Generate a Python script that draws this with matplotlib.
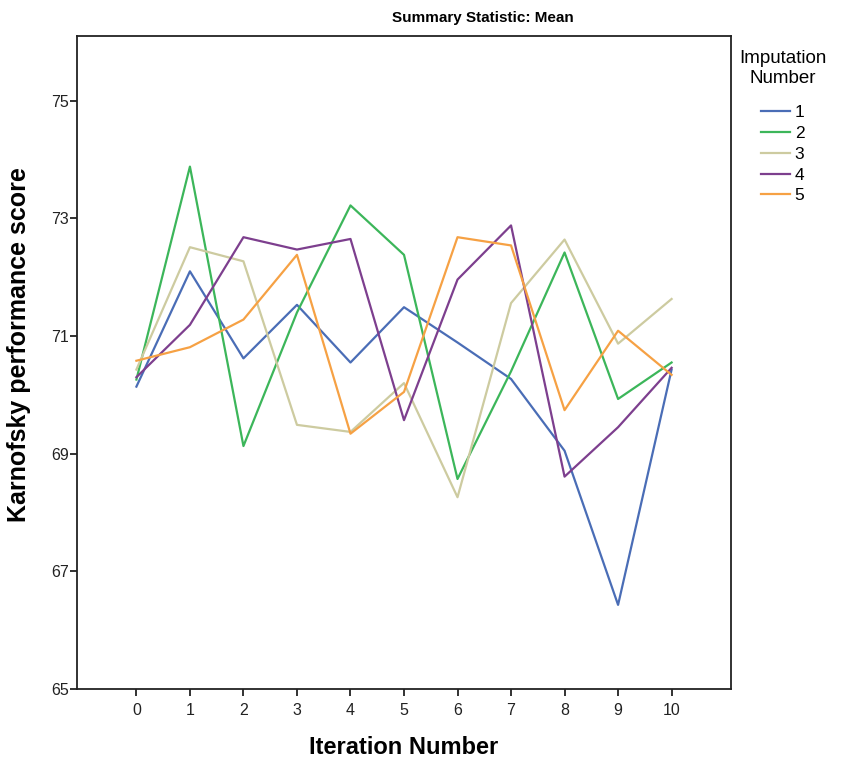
import matplotlib
matplotlib.use("Agg")
import matplotlib.pyplot as plt
from matplotlib import font_manager

iterations = [0, 1, 2, 3, 4, 5, 6, 7, 8, 9, 10]
imp1 = [70.14, 72.10, 70.62, 71.53, 70.55, 71.49, 70.89, 70.27, 69.05, 66.43, 70.43]
imp2 = [70.26, 73.88, 69.13, 71.40, 73.22, 72.38, 68.57, 70.40, 72.42, 69.93, 70.55]
imp3 = [70.43, 72.51, 72.27, 69.49, 69.37, 70.20, 68.26, 71.56, 72.64, 70.87, 71.63]
imp4 = [70.30, 71.19, 72.68, 72.47, 72.65, 69.57, 71.96, 72.88, 68.61, 69.45, 70.46]
imp5 = [70.58, 70.81, 71.28, 72.38, 69.34, 70.05, 72.68, 72.54, 69.74, 71.09, 70.34]
series = [imp1, imp2, imp3, imp4, imp5]
labels = ["1", "2", "3", "4", "5"]
colors = ["#4a6db6", "#3cb65a", "#cdcba0", "#7d3f8e", "#f6a144"]
y_ticks = [65, 67, 69, 71, 73, 75]

plt.rcParams['font.family'] = ['Liberation Sans', 'DejaVu Sans']
names = {f.name for f in font_manager.fontManager.ttflist}
narrow = ['Liberation Sans Narrow', 'Liberation Sans'] if 'Liberation Sans Narrow' in names else ['Liberation Sans']

fig = plt.figure(figsize=(8.43, 7.64), dpi=100)
ax = fig.add_axes([77/843, 1-689/764, (731-77)/843, (689-36)/764])

for s, lab, c in zip(series, labels, colors):
    ax.plot(iterations, s, color=c, lw=1.6, label=lab)

ax.set_xlim(-1.11, 11.11)
ax.set_ylim(65, 76.1)
ax.set_xticks(iterations)
ax.set_yticks(y_ticks)
ax.tick_params(axis='both', direction='out', length=5, width=1.3, labelsize=11.5, colors='#222222')
ax.tick_params(axis='x', pad=5)
ax.tick_params(axis='y', pad=1)
for lbl in ax.get_xticklabels() + ax.get_yticklabels():
    lbl.set_family(narrow)
for sp in ax.spines.values():
    sp.set_linewidth(1.3)
    sp.set_color('#222222')

ax.set_xlabel("Iteration Number", fontsize=17, fontweight='bold', family=narrow)
ax.xaxis.set_label_coords(0.5, -(747-689)/653, transform=ax.transAxes)
ax.xaxis.label.set_va('center')
ax.set_ylabel("Karnofsky performance score", fontsize=18, fontweight='bold')
ax.yaxis.set_label_coords(-(77-19)/654, (689-345)/653, transform=ax.transAxes)
ax.yaxis.label.set_va('center')

fig.text(483/843, 1-18/764, "Summary Statistic: Mean", ha='center', va='center',
         fontsize=11, fontweight='bold')

leg = ax.legend(loc='upper left', bbox_to_anchor=(739/843, 1-50/764),
                bbox_transform=fig.transFigure, frameon=False, borderaxespad=0, borderpad=0,
                title="Imputation\nNumber", prop={'family': narrow, 'size': 12.5},
                handlelength=1.7, handletextpad=0.25, labelspacing=0.32)
leg.get_title().set_family(narrow)
leg.get_title().set_fontsize(13.5)
leg.get_title().set_multialignment('center')
leg.get_title().set_linespacing(1.25)
leg._legend_box.align = "center"
leg._legend_box.sep = 13

fig.savefig("out.png", dpi=100)
